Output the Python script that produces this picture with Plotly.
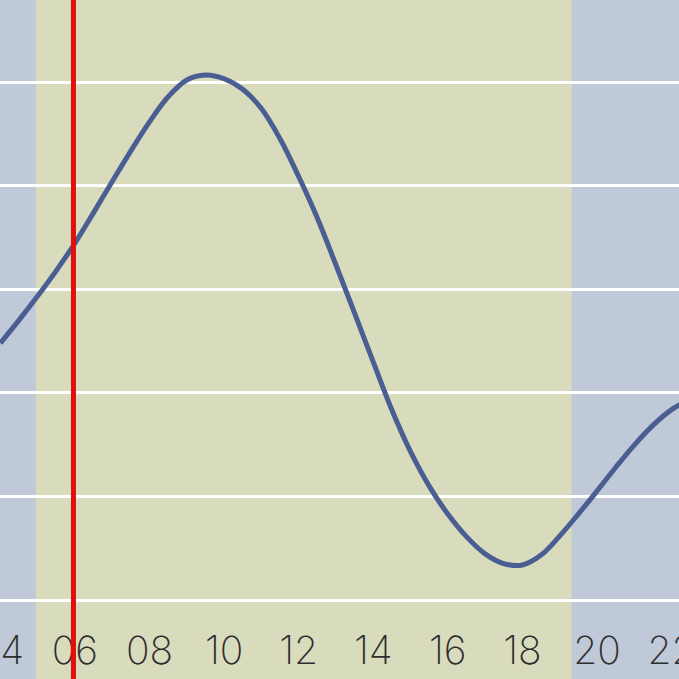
import plotly.graph_objects as go

# Tide-like curve (hours, level)
hours = [4.0, 4.5, 5.0, 5.5, 6.0, 6.5, 7.0, 7.5, 8.0, 8.5, 9.0, 9.5, 10.0, 10.5, 11.0, 11.5,
         12.0, 12.5, 13.0, 13.5, 14.0, 14.5, 15.0, 15.5, 16.0, 16.5, 17.0, 17.5, 18.0, 18.5,
         19.0, 19.5, 20.0, 20.5, 21.0, 21.5, 22.0, 22.25]
levels = [124.0, 135.1, 146.7, 159.0, 172.3, 187.0, 202.0, 216.8, 230.8, 242.9, 251.0, 253.4,
          251.6, 246.5, 237.2, 222.6, 204.4, 184.4, 161.7, 138.5, 114.9, 91.7, 71.6, 55.0,
          41.5, 30.6, 22.3, 17.6, 16.9, 21.7, 30.9, 41.5, 52.6, 64.0, 74.8, 84.3, 91.9, 94.6]

tick_vals = [4, 6, 8, 10, 12, 14, 16, 18, 20, 22]
tick_text = ["04", "06", "08", "10", "12", "14", "16", "18", "20", "22"]
grid_vals = [0, 50, 100, 150, 200, 250]

daylight_start = 4.95
daylight_end = 19.32
now_hour = 5.96

x_range = [3.99, 22.2]
y_range = [-38.1, 289.6]

fig = go.Figure()
fig.add_trace(go.Scatter(
    x=hours, y=levels, mode="lines",
    line=dict(color="#4a5e92", width=5, shape="spline", smoothing=1.0),
    hoverinfo="skip", showlegend=False,
))

fig.add_shape(type="rect", xref="x", yref="paper", x0=daylight_start, x1=daylight_end,
              y0=0, y1=1, fillcolor="#d9dbbd", line=dict(width=0), layer="below")
fig.add_shape(type="line", xref="x", yref="paper", x0=now_hour, x1=now_hour,
              y0=0, y1=1, line=dict(color="#e0100e", width=5), layer="above")

fig.update_layout(
    width=679, height=679,
    margin=dict(l=0, r=0, t=0, b=0, autoexpand=False),
    paper_bgcolor="#bfc9d7",
    plot_bgcolor="#bfc9d7",
    showlegend=False,
    xaxis=dict(range=x_range, tickvals=tick_vals, ticktext=tick_text,
               ticklabelposition="inside", ticklabeloverflow="allow", ticks="",
               automargin=False,
               showgrid=False, zeroline=False, showline=False, ticklabelstandoff=4,
               tickfont=dict(family="Inter", size=39, color="#2e2e2e", weight=200)),
    yaxis=dict(range=y_range, tickvals=grid_vals, showticklabels=False, automargin=False,
               showgrid=True, gridcolor="#ffffff", gridwidth=3, zeroline=False,
               showline=False, ticks=""),
)

fig.write_html("out.html", config={"displayModeBar": False},
               post_script="document.body.style.margin='0';document.body.style.overflow='hidden';")
